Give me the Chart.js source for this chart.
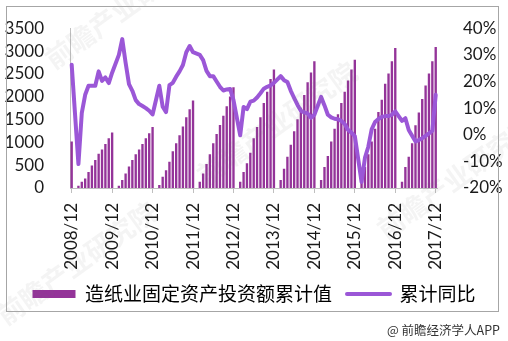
<!DOCTYPE html>
<html>
<head>
<meta charset="utf-8">
<script src="https://cdn.jsdelivr.net/npm/chart.js"></script>
<style>
  html, body { margin: 0; padding: 0; background: #fff; }
  #wrap { position: relative; width: 508px; height: 341px; }
</style>
</head>
<body>
<div id="wrap"><canvas id="chart" width="508" height="341"></canvas></div>
<script>
// 造纸业固定资产投资额累计值（亿元），每年 1 月不单独公布，记为 null
const inv2008 = [1010];
const inv2009 = [null, 40, 130, 200, 345, 485, 605, 745, 835, 955, 1080, 1210];
const inv2010 = [null, 40, 170, 310, 465, 605, 730, 835, 955, 1080, 1190, 1330];
const inv2011 = [null, 60, 240, 380, 570, 800, 975, 1150, 1340, 1540, 1715, 1910];
const inv2012 = [null, 130, 310, 520, 730, 975, 1175, 1375, 1575, 1785, 1995, 2200];
const inv2013 = [null, 130, 345, 535, 765, 1080, 1330, 1540, 1855, 2100, 2380, 2590];
const inv2014 = [null, 170, 415, 675, 940, 1235, 1500, 1750, 2030, 2310, 2520, 2770];
const inv2015 = [null, 170, 450, 695, 1010, 1290, 1610, 1855, 2100, 2345, 2590, 2800];
const inv2016 = [null, 240, 450, 730, 1010, 1290, 1660, 1925, 2275, 2500, 2770, 3060];
const inv2017 = [null, 130, 450, 675, 975, 1365, 1645, 1940, 2240, 2500, 2770, 3080];

// 累计同比（%）
const yoy2008 = [26.3];
const yoy2009 = [null, -11, 8.2, 15, 18.4, 18.4, 18.4, 23.8, 20.2, 21.5, 19.4, 23.3];
const yoy2010 = [null, 30, 35.9, 27, 19, 16.5, 13, 11.5, 10.8, 10, 9, 7.6];
const yoy2011 = [null, 18.4, 10.5, 8.5, 18.6, 19.5, 21.8, 23.8, 26.2, 31, 33.3, 31];
const yoy2012 = [null, 30, 28, 24, 22, 22, 20, 18, 16.6, 17, 17.2, 13];
const yoy2013 = [null, -0.2, 10.4, 9.6, 12.4, 12.8, 14, 15.6, 17.3, 18, 18.5, 19.5];
const yoy2014 = [null, 22, 20.5, 19.8, 16.5, 13.8, 11.2, 9, 8.4, 8, 6.4, 7.5];
const yoy2015 = [null, 14.2, 11, 7.5, 6.5, 6, 5.8, 5.2, 4, 1.8, 0.8, -0.5];
const yoy2016 = [null, -17.7, -8.7, -4.5, 2, 4.8, 5.9, 6.7, 7, 7, 7.5, 8.8];
const yoy2017 = [null, 5.2, 6.2, 1.8, -0.4, -2.5, -2, -1.3, -0.4, 0.5, 1.5, 15];

const years = [2009, 2010, 2011, 2012, 2013, 2014, 2015, 2016, 2017];
const leftTicks = [0, 500, 1000, 1500, 2000, 2500, 3000, 3500];
const rightTicks = [-20, -10, 0, 10, 20, 30, 40];

const labels = ['2008/12'];
years.forEach(y => {
    for (let m = 1; m <= 12; m++) labels.push(y + '/' + m);
});

const investment = [].concat(inv2008, inv2009, inv2010, inv2011, inv2012,
    inv2013, inv2014, inv2015, inv2016, inv2017);
const growth = [].concat(yoy2008, yoy2009, yoy2010, yoy2011, yoy2012,
    yoy2013, yoy2014, yoy2015, yoy2016, yoy2017);

const barColor = '#943499';
const lineColor = '#9b57d7';
const tickFont = { family: 'Lato', size: 17 };

// 外框、水印和来源
const decorations = {
    id: 'decorations',
    afterDraw(chart) {
        const ctx = chart.ctx;
        ctx.save();
        ctx.fillStyle = 'rgba(120,120,120,0.08)';
        ctx.font = 'bold 27px "Noto Sans CJK SC"';
        [[48, 62], [200, 178], [0, 318], [380, 232]].forEach(([x, y]) => {
            ctx.save();
            ctx.translate(x, y);
            ctx.rotate(-0.62);
            ctx.fillText('前瞻产业研究院', 0, 0);
            ctx.restore();
        });
        ctx.restore();

        ctx.save();
        ctx.strokeStyle = '#a6a6a6';
        ctx.lineWidth = 1;
        ctx.strokeRect(6.5, 6.5, 492, 305);
        ctx.fillStyle = '#333';
        ctx.font = '12.5px "Noto Sans CJK SC"';
        ctx.textAlign = 'right';
        ctx.textBaseline = 'middle';
        ctx.fillText('@ 前瞻经济学人APP', 500, 330);
        ctx.restore();
    }
};

new Chart(document.getElementById('chart'), {
    type: 'bar',
    data: {
        labels: labels,
        datasets: [
            {
                type: 'line',
                label: '累计同比',
                data: growth,
                yAxisID: 'y1',
                borderColor: lineColor,
                backgroundColor: lineColor,
                borderWidth: 4,
                borderJoinStyle: 'round',
                borderCapStyle: 'round',
                pointRadius: 0,
                tension: 0,
                spanGaps: true,
                order: 0
            },
            {
                type: 'bar',
                label: '造纸业固定资产投资额累计值',
                data: investment,
                yAxisID: 'y',
                backgroundColor: barColor,
                barThickness: 1.7,
                order: 1
            }
        ]
    },
    options: {
        responsive: false,
        animation: false,
        layout: { padding: { top: 22, left: 0, right: 0, bottom: 27.5 } },
        plugins: {
            tooltip: { enabled: false },
            legend: {
                position: 'bottom',
                labels: {
                    usePointStyle: true,
                    pointStyleWidth: 43,
                    boxHeight: 8,
                    padding: 15,
                    color: '#333',
                    font: { family: '"Noto Sans CJK SC"', size: 19 },
                    generateLabels: () => [
                        { text: '造纸业固定资产投资额累计值', fillStyle: barColor, strokeStyle: barColor,
                          lineWidth: 0, pointStyle: 'rect', datasetIndex: 1 },
                        { text: '累计同比', fillStyle: lineColor, strokeStyle: lineColor,
                          lineWidth: 4, lineCap: 'round', pointStyle: 'line', datasetIndex: 0 }
                    ]
                }
            }
        },
        scales: {
            x: {
                offset: true,
                grid: {
                    offset: false,
                    drawOnChartArea: false,
                    drawTicks: true,
                    tickLength: 5,
                    color: c => (c.index % 12 === 0 ? '#bfbfbf' : 'rgba(0,0,0,0)')
                },
                border: { color: '#bfbfbf' },
                ticks: {
                    autoSkip: false,
                    minRotation: 90,
                    maxRotation: 90,
                    padding: 10,
                    color: '#1a1a1a',
                    font: tickFont,
                    callback: (v, i) => (i % 12 === 0 ? labels[i] : '')
                },
                afterFit: s => { s.height = 81.5; }
            },
            y: {
                position: 'left',
                min: leftTicks[0],
                max: leftTicks[leftTicks.length - 1],
                grid: { display: false },
                border: { display: true, color: '#bfbfbf' },
                ticks: { stepSize: 500, autoSkip: false, padding: 18, color: '#1a1a1a',
                         font: tickFont, callback: v => String(v) },
                afterFit: s => { s.width = 70; }
            },
            y1: {
                position: 'right',
                min: rightTicks[0],
                max: rightTicks[rightTicks.length - 1],
                grid: { display: false },
                border: { display: false },
                ticks: { stepSize: 10, autoSkip: false, padding: 17.6, color: '#1a1a1a',
                         font: tickFont, callback: v => v + '%' },
                afterFit: s => { s.width = 70.6; }
            }
        }
    },
    plugins: [decorations]
});
</script>
</body>
</html>
